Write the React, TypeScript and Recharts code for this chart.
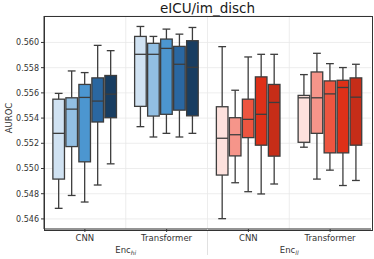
import React from "react";
import { ComposedChart, Bar, XAxis, YAxis, CartesianGrid } from "recharts";

const groups = ["CNN", "Transformer", "CNN", "Transformer"];
const encoders = ["hi", "hi", "ll", "ll"];
const yTicks = [0.546, 0.548, 0.55, 0.552, 0.554, 0.556, 0.558, 0.56];

// one row per group, five runs per row
const whiskerLow = [
  [0.54684, 0.54786, 0.54734, 0.54869, 0.55037],
  [0.55332, 0.5525, 0.55279, 0.5525, 0.55279],
  [0.54602, 0.54887, 0.54816, 0.54798, 0.54877],
  [0.55169, 0.54916, 0.54987, 0.54865, 0.54905],
];
const q1 = [
  [0.54916, 0.55174, 0.55053, 0.55369, 0.55403],
  [0.55493, 0.55416, 0.5543, 0.55463, 0.55418],
  [0.54948, 0.551, 0.55245, 0.55185, 0.55098],
  [0.55208, 0.55279, 0.55124, 0.55124, 0.55185],
];
const median = [
  [0.55279, 0.55471, 0.55564, 0.55535, 0.5559],
  [0.55906, 0.55906, 0.55953, 0.55827, 0.55803],
  [0.5524, 0.55268, 0.5539, 0.5543, 0.55524],
  [0.55561, 0.55561, 0.55592, 0.55643, 0.55566],
];
const q3 = [
  [0.5555, 0.55561, 0.55667, 0.55719, 0.55738],
  [0.56048, 0.55993, 0.56027, 0.55969, 0.56014],
  [0.5549, 0.55403, 0.5555, 0.55727, 0.55667],
  [0.5558, 0.55766, 0.55695, 0.557, 0.55719],
];
const whiskerHigh = [
  [0.55596, 0.55774, 0.55761, 0.55977, 0.55935],
  [0.56127, 0.56048, 0.56106, 0.56066, 0.56119],
  [0.55967, 0.55621, 0.55885, 0.55906, 0.55906],
  [0.55745, 0.55914, 0.55832, 0.55801, 0.55827],
];

const palettes: Record<string, string[]> = {
  hi: ["#d0e2f2", "#92bfe3", "#4c96d0", "#2a67a1", "#183d61"],
  ll: ["#fde1dd", "#f6958a", "#ed5540", "#de3018", "#c62d18"],
};

const W = 374;
const H = 259;
const PLOT_L = 44;
const PLOT_R = 371;
const PLOT_T = 16;
const PLOT_B = 229;
const PLOT_W = PLOT_R - PLOT_L;
const EDGE = "#3d3d3d";
const FONT = "DejaVu Sans";

const data = groups.map((label, g) => ({
  label,
  enc: encoders[g],
  boxes: whiskerLow[g].map((lo, k) => ({
    lo,
    q1: q1[g][k],
    med: median[g][k],
    q3: q3[g][k],
    hi: whiskerHigh[g][k],
  })),
}));

const makeBox = (k: number) => (props: any) => {
  const { x, y, width, height, payload } = props;
  const b = payload.boxes[k];
  const top = Math.min(y, y + height);
  const h = Math.abs(height);
  const py = (v: number) => top + (h * (b.hi - v)) / (b.hi - b.lo);
  const cx = x + width / 2;
  const cap = width * 0.3;
  const fill = palettes[payload.enc][k];
  const ln = { stroke: EDGE, strokeWidth: 1.3 };
  return (
    <g>
      <line x1={cx} x2={cx} y1={py(b.hi)} y2={py(b.q3)} {...ln} />
      <line x1={cx} x2={cx} y1={py(b.q1)} y2={py(b.lo)} {...ln} />
      <line x1={cx - cap} x2={cx + cap} y1={py(b.hi)} y2={py(b.hi)} {...ln} />
      <line x1={cx - cap} x2={cx + cap} y1={py(b.lo)} y2={py(b.lo)} {...ln} />
      <rect
        x={x + 0.7}
        y={py(b.q3)}
        width={width - 1.4}
        height={py(b.q1) - py(b.q3)}
        fill={fill}
        {...ln}
      />
      <line x1={x + 0.7} x2={x + width - 0.7} y1={py(b.med)} y2={py(b.med)} {...ln} />
    </g>
  );
};

const EncTick = (props: any) => {
  const { x, y, payload, index } = props;
  const sepX = PLOT_L + PLOT_W / 2;
  return (
    <g>
      {index === 1 && (
        <line x1={sepX} x2={sepX} y1={PLOT_B} y2={255} stroke="#d9d9d9" strokeWidth={0.8} />
      )}
      <text x={x} y={y + 9} textAnchor="middle" fontSize={8.5} fill="#333" fontFamily={FONT}>
        <tspan>Enc</tspan>
        <tspan fontSize={6} fontStyle="italic" dy={2}>
          {payload.value}
        </tspan>
      </text>
    </g>
  );
};

export default function App() {
  return (
    <div style={{ position: "relative", width: W, height: H, background: "#fff", fontFamily: FONT }}>
      <style>{`body{margin:0}`}</style>
      <div
        style={{
          position: "absolute",
          left: PLOT_L,
          width: PLOT_W,
          top: 0,
          textAlign: "center",
          fontSize: 13.5,
          lineHeight: "16px",
          color: "#1a1a1a",
        }}
      >
        eICU/im_disch
      </div>
      <div
        style={{
          position: "absolute",
          left: 9 - 30,
          top: 118 - 6,
          width: 60,
          lineHeight: "12px",
          textAlign: "center",
          fontSize: 8.5,
          color: "#333",
          transform: "rotate(-90deg)",
        }}
      >
        AUROC
      </div>
      <ComposedChart
        width={W}
        height={H}
        data={data}
        margin={{ top: PLOT_T, right: W - PLOT_R, bottom: 0, left: 0 }}
        barCategoryGap="10%"
        barGap={0}
      >
        <CartesianGrid
          stroke="#e8e8e8"
          strokeWidth={0.8}
          verticalCoordinatesGenerator={(p: any) => {
            const l = p?.offset?.left ?? PLOT_L;
            const w = p?.offset?.width ?? PLOT_W;
            return [1, 2, 3].map((i) => l + (w * i) / 4);
          }}
        />
        <XAxis
          dataKey="label"
          height={15}
          interval={0}
          tickSize={3}
          tickMargin={3}
          tick={{ fontSize: 8.5, fill: "#333", fontFamily: FONT }}
          tickLine={{ stroke: "#333" }}
          axisLine={{ stroke: "#333" }}
        />
        <XAxis
          xAxisId="enc"
          dataKey="enc"
          allowDuplicatedCategory={false}
          height={15}
          tickSize={0}
          tickMargin={0}
          axisLine={false}
          tickLine={false}
          tick={<EncTick />}
        />
        <YAxis
          width={PLOT_L}
          domain={[0.5452, 0.5621]}
          ticks={yTicks}
          tickFormatter={(v: number) => v.toFixed(3)}
          tickSize={3}
          tickMargin={2}
          tick={{ fontSize: 8, fill: "#333", fontFamily: FONT }}
          tickLine={{ stroke: "#333" }}
          axisLine={{ stroke: "#333" }}
        />
        {[0, 1, 2, 3, 4].map((k) => (
          <Bar
            key={k}
            dataKey={(row: any) => [row.boxes[k].lo, row.boxes[k].hi]}
            shape={makeBox(k)}
            isAnimationActive={false}
          />
        ))}
      </ComposedChart>
      <div
        style={{
          position: "absolute",
          left: PLOT_L - 0.5,
          top: PLOT_T - 0.5,
          width: PLOT_W,
          height: PLOT_B - PLOT_T,
          border: "1px solid #333",
          pointerEvents: "none",
        }}
      />
    </div>
  );
}
